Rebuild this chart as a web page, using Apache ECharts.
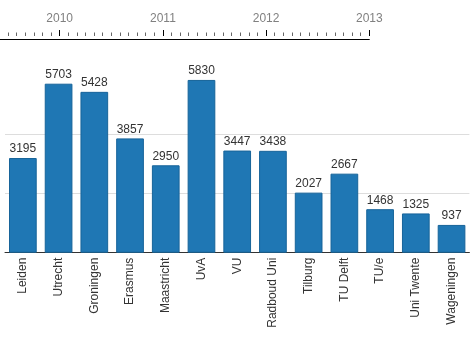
<!DOCTYPE html>
<html lang="en">
<head>
    <meta charset="UTF-8">
    <title>Universities</title>
    <style>
        html, body { margin: 0; padding: 0; background: #fff; }
        #chart { width: 475px; height: 352px; }
    </style>
</head>
<body>
    <div id="chart"></div>
<script type="text/javascript" src="https://cdn.jsdelivr.net/npm/echarts@6/dist/echarts.min.js"></script>
<script type="text/javascript">

var universities = ['Leiden', 'Utrecht', 'Groningen', 'Erasmus', 'Maastricht', 'UvA', 'VU',
    'Radboud Uni', 'Tilburg', 'TU Delft', 'TU/e', 'Uni Twente', 'Wageningen'];
var counts = [3195, 5703, 5428, 3857, 2950, 5830, 3447, 3438, 2027, 2667, 1468, 1325, 937];
var yearStart = 2009;
var yearEnd = 2013;

var font = 'Arial, "Liberation Sans", sans-serif';

var option = {
    animation: false,
    grid: [
        // timeline strip at the top (2009 sits off the left edge)
        { left: -43.5, width: 412.8, top: 39, height: 10, outerBoundsMode: 'none', containLabel: false },
        // bar chart
        { left: 5, width: 464.4, top: 74.9, bottom: 99.3, outerBoundsMode: 'none', containLabel: false }
    ],
    xAxis: [
        {
            // year ticks and labels, lifted a little above the ruler line
            type: 'value', gridIndex: 0, position: 'top', offset: 3,
            min: yearStart, max: yearEnd, interval: 1,
            axisLine: { show: false, onZero: false },
            axisTick: { show: true, length: 6, lineStyle: { color: '#000', width: 1 } },
            minorTick: { show: true, splitNumber: 12, length: 3.5, lineStyle: { color: '#666', width: 1 } },
            axisLabel: {
                color: '#808080', fontSize: 12, fontFamily: font, margin: 11,
                formatter: function (v) { return String(v); }
            },
            splitLine: { show: false }
        },
        {
            // the ruler line itself
            type: 'value', gridIndex: 0, position: 'top',
            min: yearStart, max: yearEnd, interval: 1,
            axisLine: { show: true, onZero: false, lineStyle: { color: '#000', width: 1 } },
            axisTick: { show: false },
            axisLabel: { show: false },
            splitLine: { show: false }
        },
        {
            type: 'category', gridIndex: 1, data: universities,
            axisLine: { show: true, onZero: false, lineStyle: { color: '#333', width: 1 } },
            axisTick: { show: false },
            axisLabel: {
                interval: 0, rotate: 90, margin: 5,
                color: '#333', fontSize: 12, fontFamily: font
            }
        }
    ],
    yAxis: [
        { type: 'value', gridIndex: 0, show: false, min: 1, max: 2 },
        {
            type: 'value', gridIndex: 1, min: 0, max: 6000, interval: 2000,
            axisLine: { show: false },
            axisTick: { show: false },
            axisLabel: { show: false },
            splitLine: { show: true, showMaxLine: false, lineStyle: { color: '#ddd', width: 1 } }
        }
    ],
    series: [
        {
            type: 'bar',
            xAxisIndex: 2,
            yAxisIndex: 1,
            data: counts,
            barWidth: 27.7,
            itemStyle: { color: '#1f77b4', borderColor: '#17649a', borderWidth: 1 },
            label: {
                show: true, position: 'top', distance: 3,
                color: '#333', fontSize: 12, fontFamily: font
            }
        }
    ]
};

var myChart = echarts.init(document.getElementById('chart'));
myChart.setOption(option);

</script>
</body>
</html>
